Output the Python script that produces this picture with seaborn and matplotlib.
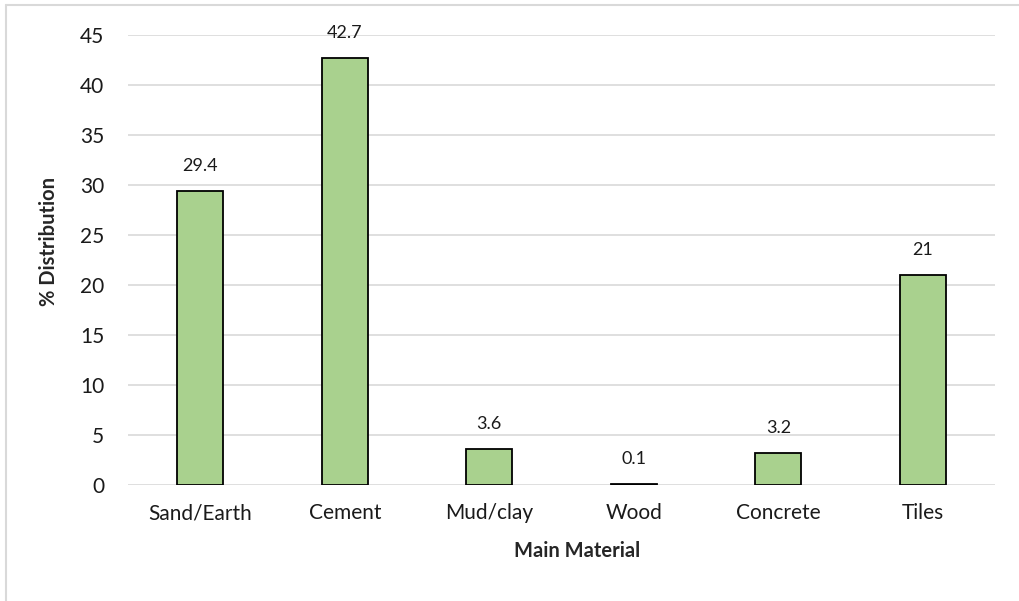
import matplotlib
matplotlib.use("Agg")
import matplotlib.pyplot as plt
from matplotlib.lines import Line2D
import seaborn as sns

materials = ["Sand/Earth", "Cement", "Mud/clay", "Wood", "Concrete", "Tiles"]
distribution = [29.4, 42.7, 3.6, 0.1, 3.2, 21]
value_labels = ["29.4", "42.7", "3.6", "0.1", "3.2", "21"]
y_ticks = [0, 5, 10, 15, 20, 25, 30, 35, 40, 45]

sns.set_theme(style="white")
plt.rcParams["font.family"] = ["Lato", "DejaVu Sans"]

fig = plt.figure(figsize=(10.19, 6.01), dpi=100)
ax = fig.add_axes([0.1256, 0.193, 0.851, 0.749])

sns.barplot(x=materials, y=distribution, color="#A9D18E", edgecolor="black",
            linewidth=1.3, width=0.32, saturation=1, ax=ax)

ax.set_ylim(0, 45)
ax.set_xlim(-0.5, len(materials) - 0.5)
ax.set_yticks(y_ticks)
ax.set_yticklabels([str(t) for t in y_ticks], fontsize=15, color="#1a1a1a")
ax.tick_params(axis="x", labelsize=15, colors="#1a1a1a", length=0, pad=13)
ax.tick_params(axis="y", length=0, pad=17)
for t in y_ticks:
    ax.axhline(t, color="#d9d9d9", lw=1.2, zorder=0)
for s in ax.spines.values():
    s.set_visible(False)

for i, (v, lab) in enumerate(zip(distribution, value_labels)):
    ax.annotate(lab, (i, v), xytext=(0, 12), textcoords="offset points",
                ha="center", va="bottom", fontsize=13, color="#1a1a1a")

ax.set_xlabel("Main Material", fontsize=14.5, fontweight="bold", va="center")
ax.set_ylabel("% Distribution", fontsize=14.5, fontweight="bold", va="center")
ax.xaxis.set_label_coords(0.518, -0.147)
ax.yaxis.set_label_coords(-0.091, 0.54)

# Chart-area frame
fig.add_artist(Line2D([6 / 1019, 6 / 1019], [0, 1 - 5 / 601], transform=fig.transFigure,
                      color="#d9d9d9", lw=1.5))
fig.add_artist(Line2D([6 / 1019, 1], [1 - 5 / 601, 1 - 5 / 601], transform=fig.transFigure,
                      color="#d9d9d9", lw=1.5))

fig.savefig("out.png", dpi=100)
